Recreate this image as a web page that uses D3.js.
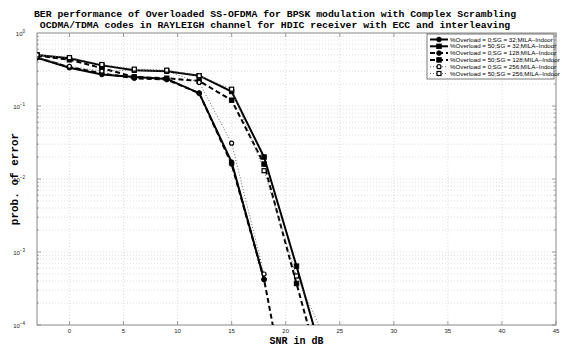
<!DOCTYPE html>
<html>
<head>
<meta charset="utf-8">
<script src="https://cdn.jsdelivr.net/npm/d3@7"></script>
<style>
  body { margin: 0; background: #fff; }
  svg { display: block; }
  .tick-label { font-family: "Liberation Sans", Arial, sans-serif; font-size: 6px; fill: #222; }
  .mono { font-family: "Liberation Mono", "Courier New", monospace; font-weight: bold; fill: #000; }
  .leg { font-family: "Liberation Sans", Arial, sans-serif; font-size: 6.2px; fill: #000; }
</style>
</head>
<body>
<svg id="chart" width="562" height="346"></svg>
<script>
"use strict";

// SNR points (dB)
const snr = [-3, 0, 3, 6, 9, 12, 15, 18, 21, 24];

// BER values
const berOv0Sg32 = [0.46, 0.335, 0.27, 0.25, 0.235, 0.15, 0.017, 4.2e-4];
const berOv50Sg32 = [0.50, 0.45, 0.36, 0.31, 0.30, 0.26, 0.158, 0.020, 6.4e-4, 1.8e-5];
const berOv0Sg128 = [0.46, 0.34, 0.28, 0.24, 0.23, 0.15, 0.016, 4.2e-4, 2e-6];
const berOv50Sg128 = [0.49, 0.43, 0.33, 0.25, 0.24, 0.22, 0.12, 0.016, 3.7e-4, 9e-6];
const berOv0Sg256 = [0.47, 0.35, 0.30, 0.31, 0.30, 0.21, 0.031, 5e-4];
const berOv50Sg256 = [0.50, 0.46, 0.37, 0.32, 0.31, 0.26, 0.17, 0.013, 4.7e-4, 5e-5];

const seriesNames = [
    "%Overload = 0;SG = 32;MILA\u2013Indoor",
    "%Overload = 50;SG = 32;MILA\u2013Indoor",
    "%Overload = 0;SG = 128;MILA\u2013Indoor",
    "%Overload = 50;SG = 128;MILA\u2013Indoor",
    "%Overload = 0;SG = 256;MILA\u2013Indoor",
    "%Overload = 50;SG = 256;MILA\u2013Indoor"
];
const seriesValues = [berOv0Sg32, berOv50Sg32, berOv0Sg128, berOv50Sg128, berOv0Sg256, berOv50Sg256];

const xTicks = [0, 5, 10, 15, 20, 25, 30, 35, 40, 45];
const yDecades = [0, -1, -2, -3, -4];

const titleLines = [
    "BER performance of Overloaded SS-OFDMA for BPSK modulation with Complex Scrambling",
    "OCDMA/TDMA codes in RAYLEIGH channel for HDIC receiver with ECC and interleaving"
];

// styles per series: line dash, width, colour, marker
const styles = [
    {dash: null, w: 2, color: "#000", marker: "circle", fill: true},
    {dash: null, w: 2, color: "#000", marker: "square", fill: true},
    {dash: "5,3", w: 2, color: "#000", marker: "circle", fill: true},
    {dash: "5,3", w: 2, color: "#000", marker: "square", fill: true},
    {dash: "1,2", w: 1, color: "#666", marker: "circle", fill: false},
    {dash: "1,2", w: 1, color: "#666", marker: "square", fill: false}
];

const margin = {top: 33, left: 37, right: 6, bottom: 21};
const width = 562, height = 346;

const svg = d3.select("#chart");

const x = d3.scaleLinear().domain([-3, 45]).range([margin.left, width - margin.right]);
const y = d3.scaleLog().domain([1e-4, 1]).range([height - margin.bottom, margin.top]);

const x0 = x.range()[0], x1 = x.range()[1];
const yTop = y.range()[1], yBot = y.range()[0];

// grid
const grid = svg.append("g").attr("stroke", "#c8c8c8").attr("stroke-width", 0.6)
    .attr("stroke-dasharray", "1,2");
for (let t of xTicks) {
    if (t <= -3 || t >= 45) continue;
    grid.append("line").attr("x1", x(t)).attr("x2", x(t)).attr("y1", yTop).attr("y2", yBot);
}
let minorVals = [];
for (let e = -4; e < 0; e++) {
    for (let m = 1; m <= 9; m++) {
        minorVals.push(m * Math.pow(10, e));
    }
}
for (let v of minorVals) {
    if (v <= 1e-4) continue;
    grid.append("line").attr("x1", x0).attr("x2", x1).attr("y1", y(v)).attr("y2", y(v));
}

// frame
svg.append("rect").attr("x", x0).attr("y", yTop).attr("width", x1 - x0).attr("height", yBot - yTop)
    .attr("fill", "none").attr("stroke", "#888").attr("stroke-width", 1);

// ticks
const ticks = svg.append("g").attr("stroke", "#888").attr("stroke-width", 0.8);
for (let t of xTicks) {
    ticks.append("line").attr("x1", x(t)).attr("x2", x(t)).attr("y1", yBot).attr("y2", yBot - 4);
    ticks.append("line").attr("x1", x(t)).attr("x2", x(t)).attr("y1", yTop).attr("y2", yTop + 4);
}
for (let v of minorVals) {
    let len = (Math.abs(Math.log10(v) - Math.round(Math.log10(v))) < 1e-9) ? 4 : 2;
    ticks.append("line").attr("x1", x0).attr("x2", x0 + len).attr("y1", y(v)).attr("y2", y(v));
    ticks.append("line").attr("x1", x1).attr("x2", x1 - len).attr("y1", y(v)).attr("y2", y(v));
}

// tick labels
svg.append("g").selectAll("text").data(xTicks).enter().append("text")
    .attr("class", "tick-label")
    .attr("x", d => x(d)).attr("y", yBot + 7.5)
    .attr("text-anchor", "middle")
    .text(d => d);

const yl = svg.append("g").selectAll("text").data(yDecades).enter().append("text")
    .attr("class", "tick-label")
    .attr("x", x0 - 12).attr("y", d => y(Math.pow(10, d)) + 3)
    .attr("text-anchor", "end");
yl.append("tspan").text("10");
yl.append("tspan").attr("dy", -3).attr("font-size", "4.5px").text(d => d === 0 ? "0" : "\u2212" + Math.abs(d));

// series
const clip = svg.append("clipPath").attr("id", "plotclip").append("rect")
    .attr("x", x0).attr("y", yTop).attr("width", x1 - x0).attr("height", yBot - yTop);

const line = d3.line().x(d => x(d[0])).y(d => y(d[1]));
const plot = svg.append("g").attr("clip-path", "url(#plotclip)");

function drawMarker(g, st, cx, cy) {
    if (st.marker === "circle") {
        g.append("circle").attr("cx", cx).attr("cy", cy).attr("r", st.fill ? 2.4 : 2)
            .attr("fill", st.fill ? "#000" : "#fff").attr("stroke", "#000").attr("stroke-width", st.fill ? 0.8 : 1.2);
    } else {
        let s = st.fill ? 4.6 : 4;
        g.append("rect").attr("x", cx - s / 2).attr("y", cy - s / 2).attr("width", s).attr("height", s)
            .attr("fill", st.fill ? "#000" : "#fff").attr("stroke", "#000").attr("stroke-width", st.fill ? 0.8 : 1.2);
    }
}

seriesValues.forEach(function (vals, i) {
    let st = styles[i];
    let pts = vals.map((v, k) => [snr[k], v]);
    plot.append("path").attr("d", line(pts))
        .attr("fill", "none").attr("stroke", st.color).attr("stroke-width", st.w)
        .attr("stroke-dasharray", st.dash);
    for (let p of pts) {
        if (p[1] < 1e-4) continue;
        drawMarker(plot, st, x(p[0]), y(p[1]));
    }
});

// legend
const lg = svg.append("g");
const lgX = 427, lgY = 34, lgW = 127, lgH = 45;
lg.append("rect").attr("x", lgX).attr("y", lgY).attr("width", lgW).attr("height", lgH)
    .attr("fill", "#fff").attr("stroke", "#555").attr("stroke-width", 0.8);
seriesNames.forEach(function (name, i) {
    let st = styles[i];
    let ry = lgY + 5.5 + i * 6.8;
    lg.append("line").attr("x1", lgX + 3).attr("x2", lgX + 21).attr("y1", ry).attr("y2", ry)
        .attr("stroke", st.color).attr("stroke-width", st.w).attr("stroke-dasharray", st.dash);
    drawMarker(lg, st, lgX + 12, ry);
    lg.append("text").attr("class", "leg").attr("x", lgX + 23).attr("y", ry + 2).text(name);
});

// titles
svg.append("g").selectAll("text").data(titleLines).enter().append("text")
    .attr("class", "mono").attr("font-size", "9.8px")
    .attr("x", 275).attr("y", (d, i) => 17 + i * 11)
    .attr("text-anchor", "middle")
    .text(d => d);

svg.append("text").attr("class", "mono").attr("font-size", "10px")
    .attr("x", (x0 + x1) / 2).attr("y", 343.5).attr("text-anchor", "middle").text("SNR in dB");

svg.append("text").attr("class", "mono").attr("font-size", "11px")
    .attr("transform", "translate(18," + ((yTop + yBot) / 2) + ") rotate(-90)")
    .attr("text-anchor", "middle").text("prob. of error");
</script>
</body>
</html>
